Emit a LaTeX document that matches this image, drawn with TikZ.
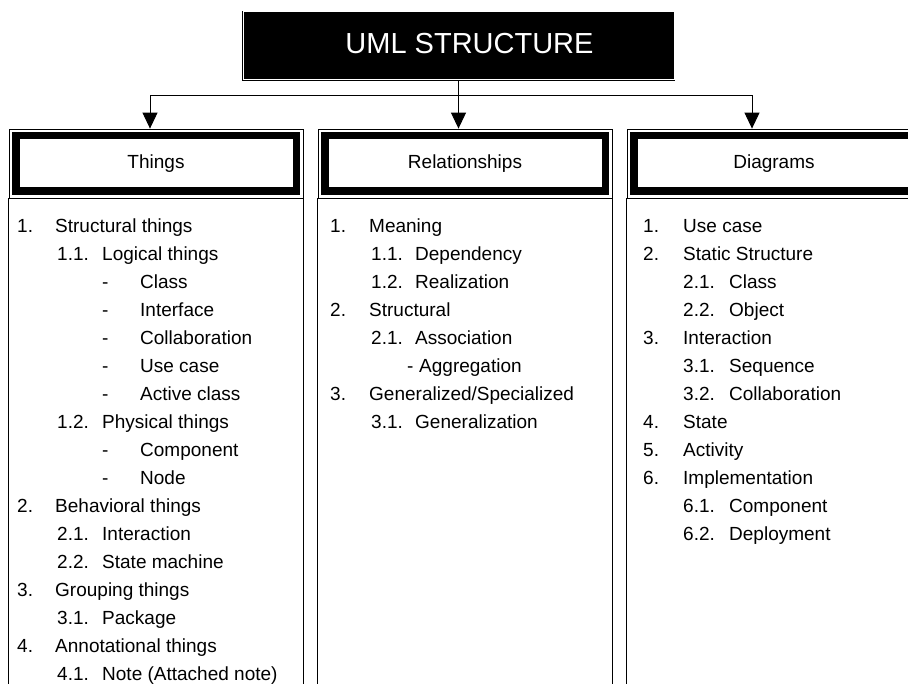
\documentclass[tikz,border=0pt]{standalone}
\usepackage{fontspec}
\setmainfont{Liberation Sans}
\usetikzlibrary{arrows.meta,positioning,calc}
\tikzset{
 titlebox/.style={draw=black,fill=black,text=white,double=white,double distance=1pt,
  line width=0.6pt,minimum width=431pt,minimum height=68pt,inner sep=0pt,
  text height=15.8pt,text depth=0pt,font=\fontsize{29}{34}\selectfont},
 headbox/.style={draw=black,line width=0.8pt,minimum width=294pt,minimum height=69pt,
  inner sep=0pt,font=\fontsize{19}{23}\selectfont,
  path picture={\draw[line width=7.5pt]
   ([shift={(6.75pt,-6.75pt)}]path picture bounding box.north west) rectangle
   ([shift={(-6.75pt,6.75pt)}]path picture bounding box.south east);}},
 entry/.style={anchor=base west,inner sep=0pt,font=\fontsize{19}{23}\selectfont},
 link/.style={line width=1pt,-{Triangle[width=15pt,length=16pt]}},
 colside/.style={line width=0.9pt},
}
\begin{document}
\begin{tikzpicture}[x=1pt,y=-1pt]
\useasboundingbox (0,0) rectangle (908,684);
\clip (0,0) rectangle (908,684);
% title and column heads
\node[titlebox] (title) at (458.5,46) {\hspace*{22pt}UML STRUCTURE};
\node[headbox] (things) at (156,163.5) {Things};
\node[headbox] (relations) at (465,163.5) {Relationships};
\node[headbox] (diagrams) at (774,163.5) {Diagrams};
% connectors
\coordinate (bus) at (title.south |- 0,96);
\draw[link] (title.south) -- (title.south |- relations.north);
\draw[link] (bus) -| ([xshift=-6pt]things.north);
\draw[link] (bus) -| ([xshift=-22pt]diagrams.north);
% column bodies
\foreach \col in {things,relations,diagrams} {
 \draw[colside] (\col.south west) -- (\col.south west |- 0,700);
 \draw[colside] (\col.south east) -- (\col.south east |- 0,700);
}
% Things
\foreach \r/\nx/\num/\tx/\txt in {0/17/1./55/Structural things,
 1/57/1.1./102/Logical things, 2/102/-/140/Class, 3/102/-/140/Interface,
 4/102/-/140/Collaboration, 5/102/-/140/Use case, 6/102/-/140/Active class,
 7/57/1.2./102/Physical things, 8/102/-/140/Component, 9/102/-/140/Node,
 10/17/2./55/Behavioral things, 11/57/2.1./102/Interaction,
 12/57/2.2./102/State machine, 13/17/3./55/Grouping things,
 14/57/3.1./102/Package, 15/17/4./55/Annotational things,
 16/57/4.1./102/Note (Attached note)} {
 \node[entry] (th-n\r) at (\nx,232.8+28*\r) {\num};
 \node[entry] (th-t\r) at (\tx,232.8+28*\r) {\txt};
}
% Relationships
\foreach \r/\nx/\num/\tx/\txt in {0/330/1./369/Meaning,
 1/371/1.1./415/Dependency, 2/371/1.2./415/Realization,
 3/330/2./369/Structural, 4/371/2.1./415/Association,
 5/407/-/419/Aggregation, 6/330/3./369/{Generalized/Specialized},
 7/371/3.1./415/Generalization} {
 \node[entry] (re-n\r) at (\nx,232.8+28*\r) {\num};
 \node[entry] (re-t\r) at (\tx,232.8+28*\r) {\txt};
}
% Diagrams
\foreach \r/\nx/\num/\tx/\txt in {0/643/1./683/Use case,
 1/643/2./683/Static Structure, 2/683/2.1./729/Class, 3/683/2.2./729/Object,
 4/643/3./683/Interaction, 5/683/3.1./729/Sequence,
 6/683/3.2./729/Collaboration, 7/643/4./683/State, 8/643/5./683/Activity,
 9/643/6./683/Implementation, 10/683/6.1./729/Component,
 11/683/6.2./729/Deployment} {
 \node[entry] (di-n\r) at (\nx,232.8+28*\r) {\num};
 \node[entry] (di-t\r) at (\tx,232.8+28*\r) {\txt};
}
\end{tikzpicture}
\end{document}
